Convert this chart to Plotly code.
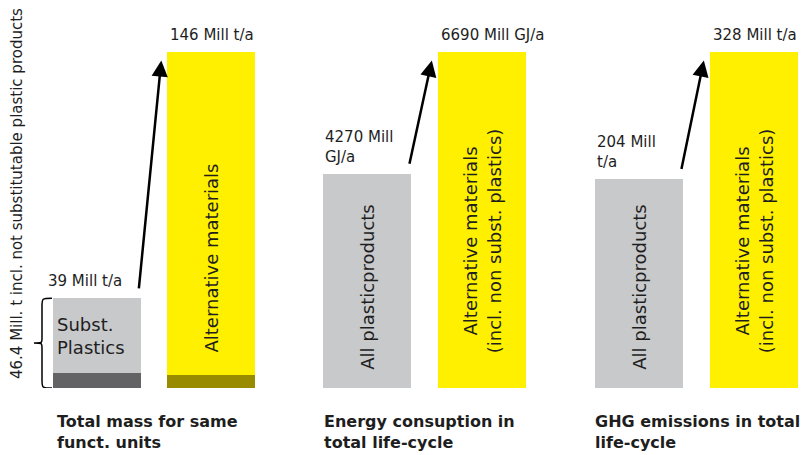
import plotly.graph_objects as go

W, H = 805, 455

# ---- data ----
groups = ["Total mass for same<br>funct. units",
          "Energy consuption in<br>total life-cycle",
          "GHG emissions in total<br>life-cycle"]
plastic_values = [39, 4270, 204]
alternative_values = [146, 6690, 328]
plastic_labels = ["39 Mill t/a", "4270 Mill<br>GJ/a", "204 Mill<br>t/a"]
alternative_labels = ["146 Mill t/a", "6690 Mill GJ/a", "328 Mill t/a"]
plastic_bar_text = ["Subst.<br>Plastics", "All plasticproducts", "All plasticproducts"]
alternative_bar_text = ["Alternative materials",
                        "Alternative materials<br>(incl. non subst. plastics)",
                        "Alternative materials<br>(incl. non subst. plastics)"]
# non-substitutable share shown at the base of the first pair
non_subst_plastic = 6.5
non_subst_alternative = 5.7
brace_label = "46.4 Mill. t incl. not substitutable plastic products"

GREY = "#c8c9cb"
DARK_GREY = "#636366"
YELLOW = "#fff000"
OLIVE = "#998b00"
TEXT = "#1e1e1e"
FONT = "DejaVu Sans"

# ---- layout geometry (pixels) ----
x_domains_px = [(53, 255), (323, 526), (595, 798)]
title_x_px = [55, 322, 593]
y_base_px, y_top_px = 388, 52
bar_w = 0.772
x_rng = [-bar_w / 2, 1 + bar_w / 2]


def px_x(p):
    return p / W


def px_y(p):
    return (H - p) / H


fig = go.Figure()
annotations = []
shapes = []

for i in range(3):
    xa = "x" if i == 0 else f"x{i + 1}"
    ya = "y" if i == 0 else f"y{i + 1}"
    if i == 0:
        # stacked: non-substitutable base + substitutable part
        fig.add_trace(go.Bar(x=[0, 1], y=[non_subst_plastic, non_subst_alternative],
                             marker=dict(color=[DARK_GREY, OLIVE], line_width=0),
                             width=bar_w, xaxis=xa, yaxis=ya, hoverinfo="skip"))
        fig.add_trace(go.Bar(x=[0, 1],
                             y=[plastic_values[0] - non_subst_plastic,
                                alternative_values[0] - non_subst_alternative],
                             marker=dict(color=[GREY, YELLOW], line_width=0),
                             width=bar_w, xaxis=xa, yaxis=ya, hoverinfo="skip"))
    else:
        fig.add_trace(go.Bar(x=[0, 1], y=[plastic_values[i], alternative_values[i]],
                             marker=dict(color=[GREY, YELLOW], line_width=0),
                             width=bar_w, xaxis=xa, yaxis=ya, hoverinfo="skip"))

    d0, d1 = x_domains_px[i]
    ymax = alternative_values[i]
    fig.update_layout(**{
        ("xaxis" if i == 0 else f"xaxis{i + 1}"): dict(
            domain=[px_x(d0), px_x(d1)], range=x_rng, visible=False,
            anchor=ya, fixedrange=True),
        ("yaxis" if i == 0 else f"yaxis{i + 1}"): dict(
            domain=[px_y(y_base_px), px_y(y_top_px)], range=[0, ymax],
            visible=False, anchor=xa, fixedrange=True),
    })

    # value labels
    annotations.append(dict(xref=xa, yref=ya, x=1 - bar_w / 2, y=ymax,
                            text=alternative_labels[i], showarrow=False,
                            xanchor="left", yanchor="bottom", yshift=6, xshift=1,
                            font=dict(size=15, color=TEXT), align="left"))
    annotations.append(dict(xref=xa, yref=ya, x=-bar_w / 2, y=plastic_values[i],
                            text=plastic_labels[i], showarrow=False,
                            xanchor="left", yanchor="bottom", yshift=6,
                            xshift=-7 if i == 0 else 0,
                            font=dict(size=15, color=TEXT), align="left"))

    # arrow from plastic bar to alternative bar
    annotations.append(dict(xref=xa, yref=ya, axref=xa, ayref=ya,
                            x=1 - bar_w / 2 - 0.05, y=ymax * 0.975,
                            ax=bar_w / 2 - 0.02, ay=plastic_values[i] + ymax * 0.025,
                            text="", showarrow=True, arrowhead=2, arrowsize=1.3,
                            arrowwidth=2.5, arrowcolor="#000000"))

    # rotated texts inside bars
    if i > 0:
        annotations.append(dict(xref=xa, yref="paper", x=0, y=px_y(372),
                                text=plastic_bar_text[i], textangle=-90,
                                showarrow=False, xanchor="center", yanchor="bottom",
                                font=dict(size=18, color=TEXT)))
    annotations.append(dict(xref=xa, yref="paper", x=1, y=px_y(355),
                            text=alternative_bar_text[i], textangle=-90,
                            showarrow=False, xanchor="center", yanchor="bottom",
                            font=dict(size=18, color=TEXT)))

    # group titles
    annotations.append(dict(xref="paper", yref="paper", x=px_x(title_x_px[i]),
                            y=px_y(410),
                            text=f"<b>{groups[i]}</b>", showarrow=False,
                            xanchor="left", yanchor="top", align="left",
                            font=dict(size=16, color=TEXT)))

# horizontal label inside the substitutable part
annotations.append(dict(xref="x", yref="y", x=-bar_w / 2, y=plastic_values[0],
                        text=plastic_bar_text[0], showarrow=False,
                        xanchor="left", yanchor="top", xshift=2, yshift=-14,
                        align="left", font=dict(size=18, color=TEXT)))

# vertical label beside the brace
annotations.append(dict(xref="paper", yref="paper", x=px_x(17), y=px_y(194),
                        text=brace_label, textangle=-90, showarrow=False,
                        xanchor="center", yanchor="middle",
                        font=dict(size=15, color=TEXT)))

# curly brace spanning the whole first plastic bar
yb = 0
yt = plastic_values[0]
ym = yt / 2
r = 0.09 * yt
xr, xm, xt = px_x(52), px_x(42), px_x(34)
brace_path = (f"M {xr},{yt} C {xm},{yt} {xm},{yt} {xm},{yt - r} "
              f"L {xm},{ym + r * 0.6} C {xm},{ym} {xm},{ym} {xt},{ym} "
              f"C {xm},{ym} {xm},{ym} {xm},{ym - r * 0.6} "
              f"L {xm},{yb + r} C {xm},{yb} {xm},{yb} {xr},{yb}")
shapes.append(dict(type="path", xref="paper", yref="y", path=brace_path,
                   line=dict(color="#000000", width=1.5)))

fig.update_layout(
    width=W, height=H,
    margin=dict(l=0, r=0, t=0, b=0),
    paper_bgcolor="white", plot_bgcolor="white",
    barmode="stack", showlegend=False,
    font=dict(family=FONT, color=TEXT),
    annotations=annotations, shapes=shapes,
)

fig.write_html("out.html")
